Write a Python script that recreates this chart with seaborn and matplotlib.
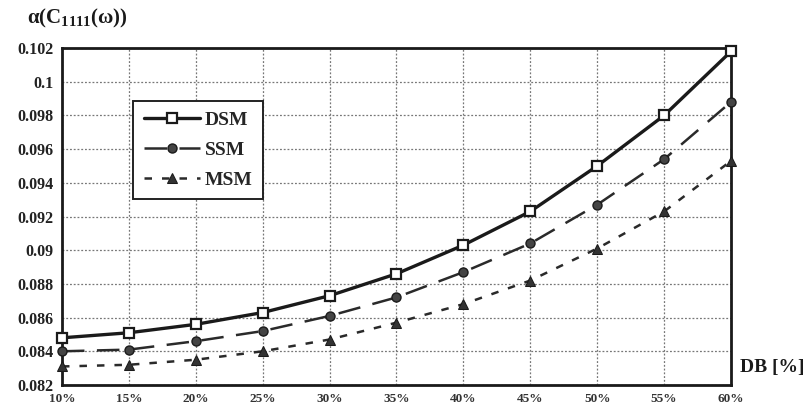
import matplotlib
matplotlib.use("Agg")
import matplotlib.pyplot as plt
import seaborn as sns
import pandas as pd

# Degree of damage DB in percent
db_percent = [10, 15, 20, 25, 30, 35, 40, 45, 50, 55, 60]
x_tick_labels = ["10%", "15%", "20%", "25%", "30%", "35%", "40%", "45%", "50%", "55%", "60%"]

# alpha(C1111(omega)) for each model
dsm_values = [0.0848, 0.0851, 0.0856, 0.0863, 0.0873, 0.0886, 0.0903, 0.0923, 0.0950, 0.0980, 0.1018]
ssm_values = [0.0840, 0.0841, 0.0846, 0.0852, 0.0861, 0.0872, 0.0887, 0.0904, 0.0927, 0.0954, 0.0988]
msm_values = [0.0831, 0.0832, 0.0835, 0.0840, 0.0847, 0.0857, 0.0868, 0.0882, 0.0901, 0.0923, 0.0953]

y_ticks = [0.082, 0.084, 0.086, 0.088, 0.09, 0.092, 0.094, 0.096, 0.098, 0.1, 0.102]
y_tick_labels = ["0.082", "0.084", "0.086", "0.088", "0.09", "0.092", "0.094", "0.096", "0.098", "0.1", "0.102"]

sns.set_style("white")
plt.rcParams["font.family"] = ["Liberation Serif", "DejaVu Serif"]
plt.rcParams["mathtext.fontset"] = "custom"
plt.rcParams["mathtext.rm"] = "Liberation Serif:bold"
plt.rcParams["mathtext.bf"] = "Liberation Serif:bold"
plt.rcParams["mathtext.it"] = "Liberation Serif:bold"

fig = plt.figure(figsize=(8.1, 4.15), dpi=100)
ax = fig.add_axes([0.0765, 0.0723, 0.826, 0.812])

df = pd.DataFrame({"DB": db_percent, "DSM": dsm_values, "SSM": ssm_values, "MSM": msm_values})

sns.lineplot(data=df, x="DB", y="DSM", ax=ax, color="#1a1a1a", linewidth=2.4,
             marker="s", markersize=6.5, markerfacecolor="white", markeredgecolor="#1a1a1a",
             markeredgewidth=1.6, label="DSM", zorder=5, clip_on=False)
sns.lineplot(data=df, x="DB", y="SSM", ax=ax, color="#2a2a2a", linewidth=1.8,
             marker="o", markersize=6.5, markerfacecolor="#444444", markeredgecolor="#1a1a1a",
             markeredgewidth=1.0, label="SSM", zorder=4, clip_on=False)
sns.lineplot(data=df, x="DB", y="MSM", ax=ax, color="#2a2a2a", linewidth=1.8,
             marker="^", markersize=7.5, markerfacecolor="#333333", markeredgecolor="#1a1a1a",
             label="MSM", zorder=3, clip_on=False)
lines = ax.get_lines()
lines[1].set_dashes([9, 5])
lines[2].set_dashes([3, 4])

ax.set_xlim(10, 60)
ax.set_ylim(0.082, 0.102)
ax.set_xticks(db_percent)
ax.set_xticklabels(x_tick_labels, fontsize=9.5, fontweight="bold", color="#333333")
ax.set_yticks(y_ticks)
ax.set_yticklabels(y_tick_labels, fontsize=11.5, fontweight="bold", color="#222222")
ax.tick_params(axis="both", direction="out", length=3, width=1, color="#222222", pad=3)
ax.set_xlabel("")
ax.set_ylabel("")

ax.grid(True, color="#777777", linestyle=(0, (1.5, 1.5)), linewidth=0.9)
for side in ["left", "right", "top", "bottom"]:
    ax.spines[side].set_visible(True)
    ax.spines[side].set_color("#1a1a1a")
    ax.spines[side].set_linewidth(2.0)

leg = ax.legend(loc="upper left", bbox_to_anchor=(0.106, 0.843), borderaxespad=0,
                frameon=True, fancybox=False, edgecolor="#222222", framealpha=1,
                prop={"family": "Liberation Serif", "weight": "bold", "size": 14},
                handlelength=2.9, borderpad=0.55, labelspacing=0.62, handletextpad=0.25)
leg.get_frame().set_linewidth(1.4)

fig.text(0.033, 0.955, r"α(C$_{1111}$(ω))", fontsize=15, fontweight="bold",
         color="#1a1a1a", va="center", ha="left")
fig.text(0.913, 0.115, "DB [%]", fontsize=14, fontweight="bold", color="#1a1a1a",
         va="center", ha="left")

fig.savefig("out.png", dpi=100)
